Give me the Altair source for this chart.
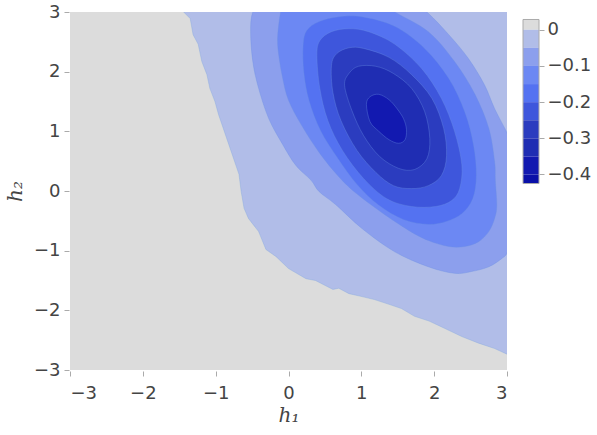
import altair as alt
import pandas as pd

# Filled contour bands: 0 and above, then one band per 0.05 step downward
band_colors = ["#dcdcdc", "#b1bde8", "#8c9fed", "#6c88f3", "#5472f1",
               "#3e56dc", "#2b3cbf", "#1f2db3", "#1219b0", "#0a10a8"]
band_edges = [0.0285, 0.0, -0.05, -0.10, -0.15, -0.20, -0.25, -0.30, -0.35, -0.40, -0.425]
colorbar_ticks = [0, -0.1, -0.2, -0.3, -0.4]

# Edge of the region where the field is exactly 0 (h1, h2)
zero_edge = [(-1.50, 3.30), (-1.44, 3.00), (-1.35, 2.89), (-1.31, 2.62), (-1.24, 2.46),
             (-1.19, 2.17), (-1.12, 1.95), (-1.08, 1.72), (-1.01, 1.50), (-0.96, 1.28),
             (-0.82, 0.78), (-0.68, 0.28), (-0.65, -0.01), (-0.61, -0.29), (-0.55, -0.46),
             (-0.41, -0.68), (-0.31, -0.98), (-0.17, -1.10), (0.00, -1.30), (0.24, -1.47),
             (0.37, -1.50), (0.61, -1.65), (0.69, -1.63), (0.83, -1.72), (1.01, -1.77),
             (1.18, -1.82), (1.38, -1.90), (1.55, -1.97), (1.73, -2.10), (1.93, -2.18),
             (2.14, -2.30), (2.38, -2.44), (2.61, -2.55), (2.83, -2.64), (3.01, -2.74),
             (3.30, -2.90), (3.30, 3.30)]

# Closed contour lines, outermost first
contour_m05 = [(-0.49, 3.00), (-0.52, 2.67), (-0.49, 2.17), (-0.41, 1.72), (-0.27, 1.21),
               (-0.08, 0.78), (0.10, 0.43), (0.31, 0.18), (0.42, -0.01), (0.65, -0.23),
               (1.01, -0.63), (1.46, -1.02), (1.92, -1.27), (2.28, -1.38), (2.51, -1.35),
               (2.75, -1.27), (2.93, -1.13), (3.01, -1.02), (3.15, -0.60), (3.20, 0.00),
               (3.12, 0.60), (3.01, 0.95), (2.83, 1.38), (2.69, 1.78), (2.47, 2.22),
               (2.20, 2.62), (1.90, 3.00), (1.50, 3.40), (0.80, 3.60), (0.10, 3.50),
               (-0.35, 3.25)]
contour_m10 = [(-0.05, 3.28), (-0.11, 2.99), (-0.15, 2.56), (-0.13, 2.24), (-0.08, 1.89),
               (0.00, 1.52), (0.18, 1.10), (0.43, 0.63), (0.69, 0.24), (0.92, -0.03),
               (1.28, -0.36), (1.65, -0.66), (1.92, -0.83), (2.20, -0.93), (2.42, -0.93),
               (2.61, -0.85), (2.75, -0.68), (2.83, -0.46), (2.86, -0.24), (2.84, 0.18),
               (2.83, 0.49), (2.75, 1.05), (2.56, 1.62), (2.28, 2.17), (1.92, 2.67),
               (1.46, 3.00), (1.10, 3.28), (0.55, 3.39)]
contour_m15 = [(0.20, 2.44), (0.25, 2.69), (0.42, 2.84), (0.69, 2.92), (1.01, 2.92),
               (1.46, 2.76), (1.87, 2.39), (2.20, 1.89), (2.42, 1.33), (2.54, 0.78),
               (2.58, 0.26), (2.53, -0.13), (2.38, -0.38), (2.17, -0.51), (1.92, -0.56),
               (1.58, -0.48), (1.24, -0.24), (0.94, 0.11), (0.68, 0.54), (0.44, 1.01),
               (0.28, 1.52), (0.21, 1.99)]
contour_m20 = [(0.39, 2.27), (0.43, 2.52), (0.59, 2.67), (0.83, 2.72), (1.10, 2.67),
               (1.46, 2.46), (1.83, 2.05), (2.10, 1.55), (2.28, 1.00), (2.38, 0.44),
               (2.35, 0.04), (2.24, -0.16), (2.02, -0.26), (1.69, -0.26), (1.35, -0.13),
               (1.03, 0.21), (0.74, 0.68), (0.54, 1.18), (0.43, 1.72)]
contour_m25 = [(0.59, 2.10), (0.66, 2.30), (0.83, 2.40), (1.03, 2.39), (1.38, 2.24),
               (1.69, 1.95), (1.97, 1.55), (2.13, 1.05), (2.17, 0.59), (2.10, 0.26),
               (1.92, 0.09), (1.69, 0.04), (1.44, 0.09), (1.20, 0.31), (0.94, 0.68),
               (0.72, 1.18), (0.61, 1.65)]
contour_m30 = [(0.77, 1.77), (0.83, 1.97), (0.96, 2.09), (1.20, 2.09), (1.44, 1.97),
               (1.69, 1.72), (1.87, 1.33), (1.94, 0.88), (1.90, 0.54), (1.73, 0.36),
               (1.51, 0.38), (1.25, 0.58), (1.03, 0.93), (0.87, 1.35)]
contour_m35 = [(1.07, 1.45), (1.12, 1.58), (1.24, 1.62), (1.38, 1.53), (1.49, 1.38),
               (1.58, 1.21), (1.62, 1.03), (1.60, 0.86), (1.51, 0.80), (1.38, 0.86),
               (1.24, 1.00), (1.12, 1.16)]

# (name, outline, colour of the band enclosed, curve interpolation)
regions = [
    ("below 0", zero_edge, band_colors[1], "linear-closed"),
    ("below -0.05", contour_m05, band_colors[2], "cardinal-closed"),
    ("below -0.10", contour_m10, band_colors[3], "cardinal-closed"),
    ("below -0.15", contour_m15, band_colors[4], "cardinal-closed"),
    ("below -0.20", contour_m20, band_colors[5], "cardinal-closed"),
    ("below -0.25", contour_m25, band_colors[6], "cardinal-closed"),
    ("below -0.30", contour_m30, band_colors[7], "cardinal-closed"),
    ("below -0.35", contour_m35, band_colors[8], "cardinal-closed"),
]

rows = []
for name, pts, _, _ in regions:
    for i, (a, b) in enumerate(pts):
        rows.append({"region": name, "i": i, "h1": a, "h2": b})
contours = pd.DataFrame(rows)

FONT = "DejaVu Sans"
MATH = "DejaVu Serif"
minus = "replace(datum.label, '-', '\u2212')"

xscale = alt.Scale(domain=[-3, 3], nice=False, zero=False)
yscale = alt.Scale(domain=[-3, 3], nice=False, zero=False)
xaxis = alt.Axis(values=[-3, -2, -1, 0, 1, 2, 3], title="h\u2081", labelExpr=minus,
                 tickSize=5, offset=1, labelPadding=8, titlePadding=3)
yaxis = alt.Axis(values=[-3, -2, -1, 0, 1, 2, 3], title="h\u2082", labelExpr=minus,
                 tickSize=5, offset=1, labelPadding=4, titlePadding=8)

layers = []
for name, _, color, interp in regions:
    edge = "#7ea6dc" if name == "below 0" else "#6a8fe3"
    layers.append(
        alt.Chart(contours)
        .transform_filter(alt.datum.region == name)
        .mark_line(fill=color, stroke=edge, strokeWidth=0.6, strokeOpacity=0.6,
                   interpolate=interp, clip=True)
        .encode(
            x=alt.X("h1:Q", scale=xscale, axis=xaxis),
            y=alt.Y("h2:Q", scale=yscale, axis=yaxis),
            order=alt.Order("i:Q"),
        )
    )

field = alt.layer(*layers).properties(
    width=437, height=358,
    view=alt.ViewBackground(fill=band_colors[0], stroke=None),
)

# Colour bar built from the band edges
bar = pd.DataFrame({"lo": band_edges[1:], "hi": band_edges[:-1], "c": band_colors})
bar_frame = pd.DataFrame({"lo": [band_edges[-1]], "hi": [band_edges[0]]})

cb_scale = alt.Scale(domain=[-0.9405, 0.0492], nice=False, zero=False)
cb_axis = alt.Axis(orient="right", values=colorbar_ticks, format="~g", labelExpr=minus,
                   title=None, tickSize=5, labelPadding=3, domain=False, grid=False)

cb_fill = alt.Chart(bar).mark_rect().encode(
    x=alt.value(0), x2=alt.value(16),
    y=alt.Y("hi:Q", scale=cb_scale, axis=cb_axis), y2="lo:Q",
    color=alt.Color("c:N", scale=None),
)
cb_border = alt.Chart(bar_frame).mark_rect(fill=None, stroke="#aaaaaa", strokeWidth=1).encode(
    x=alt.value(0), x2=alt.value(16),
    y=alt.Y("hi:Q", scale=cb_scale, axis=cb_axis), y2="lo:Q",
)
colorbar = alt.layer(cb_fill, cb_border).properties(
    width=16, height=358, view=alt.ViewBackground(fill=None, stroke=None))

chart = (
    alt.hconcat(field, colorbar, spacing=16, bounds="flush")
    .properties(padding={"left": 5, "top": 3, "right": 5, "bottom": 5}, background="white")
    .configure_axis(labelFont=FONT, labelFontSize=18, labelColor="#444444",
                    tickColor="#aaaaaa", grid=False, domain=False,
                    titleFont=MATH, titleFontStyle="italic", titleFontWeight="normal",
                    titleFontSize=20, titleColor="#444444")
)

chart.save("out.html", embed_options={"renderer": "svg", "actions": False})
